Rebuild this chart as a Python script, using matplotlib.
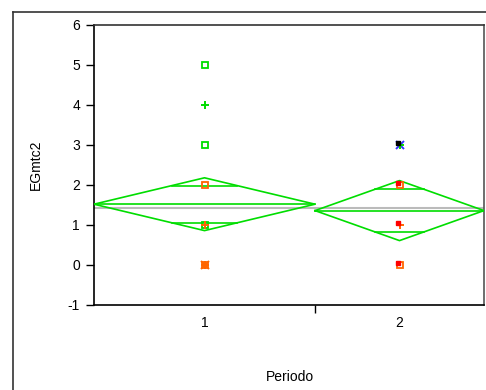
import numpy as np
import matplotlib.pyplot as plt
from matplotlib.lines import Line2D

plt.rcParams['font.family'] = ['Liberation Sans', 'DejaVu Sans']
plt.rcParams['font.size'] = 10
plt.rcParams['axes.unicode_minus'] = False

# group data (JMP means diamonds)
groups = ['1', '2']
counts = [17, 13]          # diamond widths are proportional to group size
means = [1.52, 1.36]
ci_half = [0.66, 0.75]     # 95% CI half width
grand_mean = 1.43

# observed points per group: (value, marker, colour)
pts_1 = [(5, 's', '#00DD00'), (4, '+', '#00DD00'), (3, 's', '#00DD00'),
         (2, 's', '#FF6600'), (1, 's', '#00DD00'), (1, '+', '#FF6600'),
         (0, 's', '#FF6600'), (0, '+', '#FF6600'), (0, 'x', '#FF6600')]
pts_2 = [(3, 'x', '#3333FF'), (3, '+', '#00DD00'), (3, '.', '#000000'),
         (2, 's', '#FF6600'), (2, '.', '#FF0000'),
         (1, '+', '#FF6600'), (1, '.', '#FF0000'),
         (0, 's', '#FF6600'), (0, '.', '#FF0000')]
points = [pts_1, pts_2]

fig = plt.figure(figsize=(4.86, 3.90), dpi=100)
ax = fig.add_axes([94/486, 85/390, 390/486, 280/390])

green = '#00DD00'
edges = np.concatenate([[0], np.cumsum(counts)])
for i in range(len(groups)):
    x0, x1 = edges[i], edges[i + 1]
    xc = (x0 + x1) / 2
    hw = (x1 - x0) / 2
    m, h = means[i], ci_half[i]
    ax.plot([x0, xc, x1, xc, x0], [m, m + h, m, m - h, m], color=green, lw=1.2, zorder=3)
    ax.plot([x0, x1], [m, m], color=green, lw=1.2, zorder=3)
    # overlap marks
    d = h / np.sqrt(2)
    w = hw * (1 - 1 / np.sqrt(2))
    for yy in (m + d, m - d):
        ax.plot([xc - w, xc + w], [yy, yy], color=green, lw=1.2, zorder=3)
    for val, mk, col in points[i]:
        if mk == '.':
            ax.plot(xc - 0.12, val + 0.05, marker='s', ms=2.5, color=col, mec=col, zorder=5)
        elif mk == 's':
            ax.plot(xc, val, marker='s', ms=4.5, mfc='none', mec=col, mew=1.3, zorder=4)
        else:
            ax.plot(xc, val, marker=mk, ms=6, color=col, mew=1.4, zorder=4)

ax.axhline(grand_mean, color='#BBBBBB', lw=1.5, zorder=2)

ax.set_xlim(0, edges[-1])
ax.set_ylim(-1, 6)
ax.set_yticks(range(-1, 7))
ax.set_xticks([edges[1]])
ax.set_xticklabels([''])
for i, g in enumerate(groups):
    ax.text((edges[i] + edges[i + 1]) / 2, -1.45, g, ha='center', va='center', fontsize=10)
ax.tick_params(axis='y', length=6, width=1, direction='out', pad=4)
ax.tick_params(axis='x', length=6, width=1, direction='out')
for s in ax.spines.values():
    s.set_linewidth(1.2)
ax.spines['top'].set_color('#333333')
ax.spines['right'].set_color('#555555')

ax.set_ylabel('EGmtc2', labelpad=18)
fig.text(290/486, 1 - 377/390, 'Periodo', ha='center', va='center', fontsize=10)

# outer report frame
fig.add_artist(Line2D([13/486, 13/486], [0, 1 - 12/390], color='#333333', lw=1.2))
fig.add_artist(Line2D([13/486, 1], [1 - 12/390, 1 - 12/390], color='#333333', lw=1.2))

fig.savefig('out.png', dpi=100)
